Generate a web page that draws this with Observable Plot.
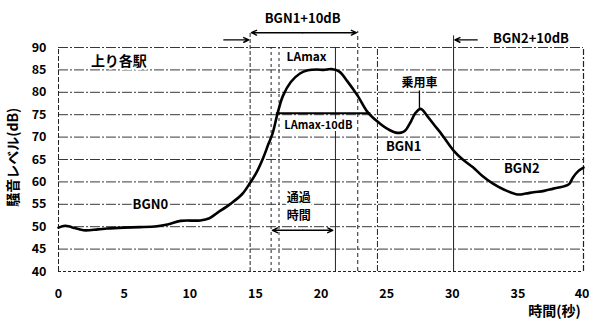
<!DOCTYPE html>
<html><head><meta charset="utf-8">
<script src="https://cdn.jsdelivr.net/npm/d3@7"></script>
<script src="https://cdn.jsdelivr.net/npm/@observablehq/plot@0.6"></script>
<style>
body{margin:0;background:#fff}
#chart svg{font-family:"Noto Sans CJK JP","Noto Sans",sans-serif;overflow:visible}
</style>
</head><body><div id="chart"></div>
<script>
// 時間(秒) と 騒音レベル(dB)
const time  = [0,0.5,1.0,1.9,3.0,3.7,5.0,6.2,7.5,8.3,9.3,10.8,11.5,12.1,13.1,14.0,14.6,15.1,15.6,16.0,16.3,16.7,17.1,17.7,18.4,19.0,19.7,20.2,20.8,21.4,22.0,22.8,23.6,24.5,25.1,25.7,26.1,26.4,26.8,27.2,27.6,28.1,28.6,29.1,30.1,30.8,31.6,32.3,33.1,34.0,35.0,35.6,36.2,37.0,37.7,38.5,38.9,39.2,39.6,40.0];
const level = [49.8,50.2,49.9,49.2,49.4,49.6,49.8,49.9,50.1,50.5,51.3,51.4,51.9,53.1,55.1,57.3,59.8,62.2,65.4,68.5,70.7,75.4,79.2,82.3,84.2,84.9,85.1,85.0,85.2,84.6,82.5,79.2,75.4,73.0,71.8,71.0,71.0,71.4,73.2,75.4,76.3,74.7,72.8,71.0,67.0,65.0,63.2,61.3,59.6,58.2,57.2,57.4,57.7,58.0,58.5,59.0,59.5,61.0,62.4,63.2];

const xTicks = [0,5,10,15,20,25,30,35,40];
const yTicks = [40,45,50,55,60,65,70,75,80,85,90];
const gridLevels = [45,50,55,60,65,70,75,80,85,90];

// 縦の区切り線: 時刻, 上端レベル
const vlineTime = [14.6,16.2,16.8,21.1,22.8,24.3,30.1];
const vlineTop  = [93.3,90,90,90,93.6,90,92.6];
const vlineDash = ["4,2","3,3","3,3","none","4,3","6,2,2,2","none"];

// 注記テキスト
const labelText = ["上り各駅","LAmax","LAmax-10dB","BGN0","BGN1","BGN2","乗用車","通過","時間","BGN1+10dB","BGN2+10dB"];
const labelTime = [4.6,18.9,19.8,7.0,26.3,35.3,27.5,18.3,18.3,18.6,36.0];
const labelLevel= [86.8,87.9,72.5,54.9,67.8,62.9,82.1,56.3,52.25,96.3,92.0];
const labelSize = [14,12,11,13,13,13,12,12,12,13,13];

// 軸ラベル
const xTitle = {text:"時間(秒)", t:37.8, v:31.0};
const yTitle = {text:"騒音レベル(dB)", t:-3.4, v:65.5};

// LAmax-10dB レベル線
const lamax10 = {t1:16.6, t2:23.8, v:75.3};
// 矢印 (x1,y1,x2,y2)
const arrows = [
  {x1:18.6, y1:93.3, x2:14.7, y2:93.3},
  {x1:18.6, y1:93.3, x2:22.7, y2:93.3},
  {x1:12.6, y1:91.7, x2:14.5, y2:91.7},
  {x1:31.9, y1:91.7, x2:30.2, y2:91.7},
  {x1:18.6, y1:49.2, x2:16.3, y2:49.2},
  {x1:18.6, y1:49.2, x2:20.9, y2:49.2}
];
const carLink = {t:27.5, v1:80.3, v2:76.4};

const curve = time.map((t,i)=>({t, v:level[i]}));
const vlines = vlineTime.map((t,i)=>({t, top:vlineTop[i], dash:vlineDash[i]}));
const labels = labelText.map((s,i)=>({s, t:labelTime[i], v:labelLevel[i], size:labelSize[i]}));
const xTickData = xTicks.map(t=>({t, s:String(t)}));

const marks = [
  // 横グリッド
  Plot.ruleY(gridLevels, {stroke:"#222", strokeWidth:0.9, strokeDasharray:"10,2,2,2"}),
  Plot.ruleY([40], {stroke:"#222", strokeWidth:1.2, strokeDasharray:"3,2"}),
  Plot.ruleX([0], {y1:40, y2:90, stroke:"#222", strokeWidth:1, strokeDasharray:"5,2"}),
  Plot.ruleX([40], {y1:40, y2:90, stroke:"#222", strokeWidth:1.2, strokeDasharray:"6,2,2,2"}),
  ...vlines.map(d => Plot.ruleX([d.t], {y1:40, y2:d.top, stroke:"#222", strokeWidth:1, strokeDasharray:d.dash})),
  Plot.ruleY([lamax10.v], {x1:lamax10.t1, x2:lamax10.t2, stroke:"#000", strokeWidth:2}),
  Plot.ruleX([carLink.t], {y1:carLink.v1, y2:carLink.v2, stroke:"#000", strokeWidth:1.3}),
  Plot.arrow(arrows, {x1:"x1", y1:"y1", x2:"x2", y2:"y2", stroke:"#000", strokeWidth:1.4, headLength:6, headAngle:50}),
  Plot.line(curve, {x:"t", y:"v", stroke:"#000", strokeWidth:2.6, curve:"catmull-rom"}),
  ...labels.map(d => Plot.text([d], {x:"t", y:"v", text:"s", fontSize:d.size, fontWeight:"bold", fill:"#000", stroke:"white", strokeWidth:4})),
  // x 目盛ラベル (右端は右寄せ)
  Plot.text(xTickData.filter(d=>d.t<40), {x:"t", y:40, text:"s", dy:22, fontSize:12.5, fontWeight:"bold", fill:"#000"}),
  Plot.text(xTickData.filter(d=>d.t===40), {x:"t", y:40, text:"s", dy:22, dx:6, textAnchor:"end", fontSize:12.5, fontWeight:"bold", fill:"#000"}),
  Plot.axisY(yTicks, {tickSize:0, tickPadding:12, fontSize:12.5, fontWeight:"bold", label:null}),
  Plot.text([xTitle], {x:"t", y:"v", text:"text", fontSize:14, fontWeight:"bold", fill:"#000"}),
  Plot.text([yTitle], {x:"t", y:"v", text:"text", rotate:-90, fontSize:14, fontWeight:"bold", fill:"#000"})
];

const chart = Plot.plot({
  width:589, height:324,
  marginLeft:58, marginRight:6, marginTop:47, marginBottom:53,
  x:{domain:[0,40], axis:null},
  y:{domain:[40,90]},
  style:{background:"#fff", color:"#000"},
  marks
});
document.getElementById("chart").appendChild(chart);
</script>
</body></html>
